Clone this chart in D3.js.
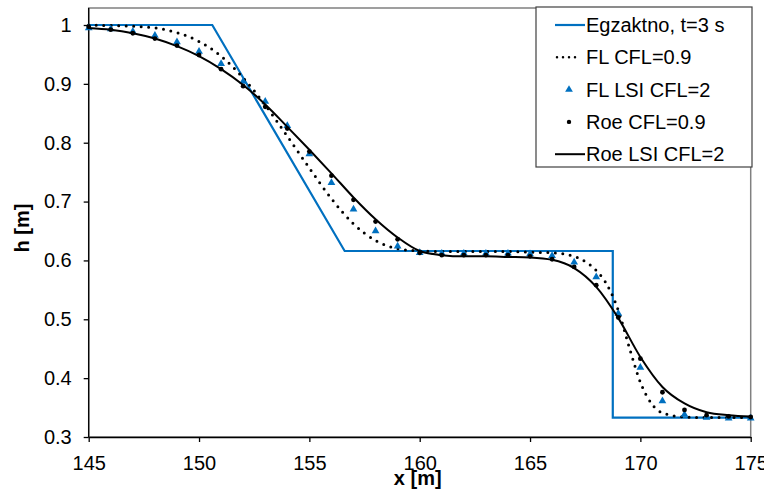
<!DOCTYPE html>
<html>
<head>
<meta charset="utf-8">
<script src="https://cdn.jsdelivr.net/npm/d3@7"></script>
<style>
  body { margin: 0; background: #fff; }
  svg text { font-family: "Liberation Sans", Arial, sans-serif; }
</style>
</head>
<body>
<div id="visContainer"></div>
<script>
'use strict';

// x positions of the computed nodes
const xNodes = [145, 146, 147, 148, 149, 150, 151, 152, 153, 154, 155, 156, 157, 158, 159, 160,
  161, 162, 163, 164, 165, 166, 167, 168, 169, 170, 171, 172, 173, 174, 175];

// exact solution, t=3 s
const exactX = [145, 150.6, 156.6, 168.75, 168.75, 175];
const exactH = [1, 1, 0.616, 0.616, 0.333, 0.333];

// FL CFL=0.9 (dotted line)
const flX = [145, 146, 147, 148, 149, 150, 151, 152, 153, 154, 155, 156, 157, 158, 159, 160,
  161, 162, 163, 164, 165, 166, 167, 167.5, 168, 168.5, 169, 169.5, 170, 170.5, 171, 172, 173, 174, 175];
const flH = [1.0, 0.999, 0.998, 0.995, 0.987, 0.972, 0.947, 0.91, 0.864, 0.811, 0.757, 0.705, 0.662, 0.634, 0.62, 0.616,
  0.615, 0.615, 0.615, 0.615, 0.614, 0.613, 0.607, 0.598, 0.583, 0.558, 0.515, 0.452, 0.393, 0.357, 0.341, 0.334, 0.333, 0.333, 0.333];

// FL LSI CFL=2 (triangles)
const flLsiH = [0.995, 0.993, 0.989, 0.982, 0.971, 0.955, 0.934, 0.904, 0.87, 0.829, 0.781, 0.732, 0.687, 0.65, 0.624, 0.613,
  0.612, 0.612, 0.612, 0.612, 0.611, 0.608, 0.597, 0.572, 0.51, 0.418, 0.361, 0.338, 0.333, 0.332, 0.332];

// Roe CFL=0.9 (dots)
const roeH = [0.997, 0.992, 0.986, 0.977, 0.965, 0.949, 0.925, 0.896, 0.861, 0.824, 0.785, 0.744, 0.703, 0.666, 0.636, 0.613,
  0.609, 0.609, 0.609, 0.609, 0.607, 0.602, 0.589, 0.558, 0.503, 0.433, 0.376, 0.346, 0.337, 0.335, 0.334];

// Roe LSI CFL=2 (solid black line)
const roeLsiH = [0.995, 0.992, 0.986, 0.977, 0.964, 0.947, 0.925, 0.898, 0.865, 0.827, 0.788, 0.748, 0.707, 0.67, 0.639, 0.616,
  0.609, 0.607, 0.607, 0.606, 0.605, 0.601, 0.587, 0.555, 0.502, 0.436, 0.385, 0.357, 0.342, 0.337, 0.335];

const xTicks = [145, 150, 155, 160, 165, 170, 175];
const yTicks = [0.3, 0.4, 0.5, 0.6, 0.7, 0.8, 0.9, 1];

const legendLabels = ["Egzaktno, t=3 s", "FL CFL=0.9", "FL LSI CFL=2", "Roe CFL=0.9", "Roe LSI CFL=2"];

const blue = '#0070C0';
const fontSize = '20px';

var svg = d3.select('#visContainer')
    .append('svg')
    .attr('width', 764)
    .attr('height', 491);

// plot area in pixels
var plot = {left: 88.7, right: 750.7, top: 8, bottom: 437};

var x = d3.scaleLinear().domain([145, 175]).range([plot.left, plot.right]);
var y = d3.scaleLinear().domain([0.3, 1]).range([plot.bottom, 25]);

// plot area frame
svg.append('rect')
    .attr('x', plot.left)
    .attr('y', plot.top)
    .attr('width', plot.right - plot.left)
    .attr('height', plot.bottom - plot.top)
    .attr('fill', 'none')
    .attr('stroke', '#808080')
    .attr('stroke-width', 1.5);

// axes
var xAxis = svg.append('g')
    .attr('transform', 'translate(0,' + plot.bottom + ')')
    .call(d3.axisBottom(x).tickValues(xTicks).tickSize(5).tickPadding(14).tickSizeOuter(0));

var yAxis = svg.append('g')
    .attr('transform', 'translate(' + plot.left + ',0)')
    .call(d3.axisLeft(y).tickValues(yTicks).tickSize(5).tickPadding(12).tickSizeOuter(0)
      .tickFormat(function(d) { return d === 1 ? '1' : d3.format('.1f')(d); }));

// extend y axis line up to the frame top
yAxis.select('.domain').attr('d', 'M-0,' + plot.top + 'V' + plot.bottom);

[xAxis, yAxis].forEach(function(a) {
  a.selectAll('.domain').attr('stroke', '#000').attr('stroke-width', 1.3);
  a.selectAll('.tick line').attr('stroke', '#000').attr('stroke-width', 1.3);
  a.selectAll('.tick text')
    .attr('fill', '#000')
    .style('font-size', fontSize)
    .style('font-family', '"Liberation Sans", Arial, sans-serif');
});

// axis titles
svg.append('text')
    .attr('x', (plot.left + plot.right) / 2 - 2)
    .attr('y', 485)
    .attr('text-anchor', 'middle')
    .style('font-size', fontSize)
    .style('font-weight', 'bold')
    .text('x [m]');

svg.append('text')
    .attr('transform', 'translate(29,' + 228 + ') rotate(-90)')
    .attr('text-anchor', 'middle')
    .style('font-size', fontSize)
    .style('font-weight', 'bold')
    .text('h [m]');

var g = svg.append('g');

// exact solution
var exactLine = d3.line()
    .x(function(d) { return x(d[0]); })
    .y(function(d) { return y(d[1]); });

g.append('path')
    .datum(d3.zip(exactX, exactH))
    .attr('d', exactLine)
    .attr('fill', 'none')
    .attr('stroke', blue)
    .attr('stroke-width', 2.2);

// smooth lines
var smoothLine = d3.line()
    .curve(d3.curveMonotoneX)
    .x(function(d) { return x(d[0]); })
    .y(function(d) { return y(d[1]); });

g.append('path')
    .datum(d3.zip(flX, flH))
    .attr('d', smoothLine)
    .attr('fill', 'none')
    .attr('stroke', '#000')
    .attr('stroke-width', 3)
    .attr('stroke-linecap', 'round')
    .attr('stroke-dasharray', '0 7.5');

// triangles
var tri = d3.symbol().type(d3.symbolTriangle).size(26);
g.selectAll('.tri')
    .data(d3.zip(xNodes, flLsiH))
    .enter().append('path')
    .attr('class', 'tri')
    .attr('d', tri)
    .attr('transform', function(d) { return 'translate(' + x(d[0]) + ',' + y(d[1]) + ')'; })
    .attr('fill', blue);

// dots
g.selectAll('.dot')
    .data(d3.zip(xNodes, roeH))
    .enter().append('circle')
    .attr('class', 'dot')
    .attr('cx', function(d) { return x(d[0]); })
    .attr('cy', function(d) { return y(d[1]); })
    .attr('r', 2.4)
    .attr('fill', '#000');

g.append('path')
    .datum(d3.zip(xNodes, roeLsiH))
    .attr('d', smoothLine)
    .attr('fill', 'none')
    .attr('stroke', '#000')
    .attr('stroke-width', 2);

// legend
var legend = svg.append('g').attr('transform', 'translate(536,7)');
legend.append('rect')
    .attr('width', 216)
    .attr('height', 160)
    .attr('fill', '#fff')
    .attr('stroke', '#404040')
    .attr('stroke-width', 1.2);

var rowY = function(i) { return 18 + i * 32.3; };

legend.selectAll('.lab')
    .data(legendLabels)
    .enter().append('text')
    .attr('x', 50)
    .attr('y', function(d, i) { return rowY(i); })
    .attr('dy', '0.35em')
    .style('font-size', fontSize)
    .text(function(d) { return d; });

legend.append('line')
    .attr('x1', 19).attr('x2', 49).attr('y1', rowY(0)).attr('y2', rowY(0))
    .attr('stroke', blue).attr('stroke-width', 2.2);
legend.append('line')
    .attr('x1', 21).attr('x2', 45).attr('y1', rowY(1)).attr('y2', rowY(1))
    .attr('stroke', '#000').attr('stroke-width', 2.5)
    .attr('stroke-linecap', 'round').attr('stroke-dasharray', '0 6');
legend.append('path')
    .attr('d', tri)
    .attr('transform', 'translate(33,' + rowY(2) + ')')
    .attr('fill', blue);
legend.append('circle')
    .attr('cx', 33).attr('cy', rowY(3)).attr('r', 2.2).attr('fill', '#000');
legend.append('line')
    .attr('x1', 19).attr('x2', 49).attr('y1', rowY(4)).attr('y2', rowY(4))
    .attr('stroke', '#000').attr('stroke-width', 2);
</script>
</body>
</html>
